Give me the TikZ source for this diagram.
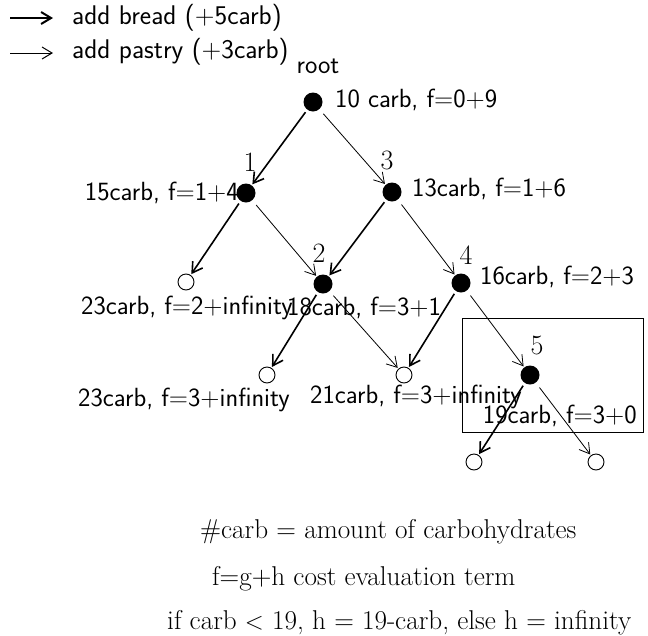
\documentclass[tikz,border=0pt]{standalone}
\usetikzlibrary{arrows.meta}
\begin{document}
\begin{tikzpicture}[x=1pt,y=-1pt,
  full/.style={circle, fill=black, minimum size=19pt, inner sep=0pt},
  hollow/.style={circle, draw, line width=0.9pt, minimum size=16pt, inner sep=0pt},
  lbl/.style={font=\sffamily\fontsize{26.3}{30}\selectfont, inner sep=0pt},
  leg/.style={font=\sffamily\fontsize{27}{30}\selectfont, inner sep=0pt, anchor=base west},
  num/.style={font=\fontsize{28}{30}\selectfont, inner sep=0pt},
  note/.style={font=\fontsize{27.2}{30}\selectfont, inner sep=0pt, anchor=base west},
  tip/.style={-{Straight Barb[length=10pt,width=12pt]}},
  bread/.style={tip, line width=1.6pt, shorten <=3pt, shorten >=1pt},
  pastry/.style={tip, line width=0.8pt, shorten <=6pt, shorten >=1pt},
  frame/.style={draw, line width=1pt}]
\useasboundingbox (0,0) rectangle (648,635);

% legend
\coordinate (la1) at (10,18); \coordinate (la2) at (53,18);
\coordinate (lb1) at (10,53); \coordinate (lb2) at (53,53);
\draw[tip, line width=2pt] (la1) -- (la2);
\draw[tip, line width=1pt] (lb1) -- (lb2);
\node[leg] (legbread) at (72,24) {add bread (+5carb)};
\node[leg] (legpastry) at (72,58) {add pastry (+3carb)};

% tree nodes
\node[full] (root) at (313,102) {};
\node[full] (n1) at (246,193) {};
\node[full] (n3) at (392,192) {};
\node[hollow] (la) at (186,282) {};
\node[full] (n2) at (323,284) {};
\node[full] (n4) at (461,283) {};
\node[hollow] (lb) at (267,375) {};
\node[hollow] (lc) at (404,375) {};
\node[full] (n5) at (530,375) {};
\node[hollow] (ld) at (474,462) {};
\node[hollow] (le) at (596,462) {};

% box
\draw[frame] (462,318) rectangle (643,432);

% connectors
\draw[bread] (root) -- (n1);
\draw[pastry] (root) -- (n3);
\draw[bread] (n1) -- (la);
\draw[pastry] (n1) -- (n2);
\draw[bread] (n3) -- (n2);
\draw[pastry] (n3) -- (n4);
\draw[bread] (n2) -- (lb);
\draw[pastry] (n2) -- (lc);
\draw[bread] (n4) -- (lc);
\draw[pastry] (n4) -- (n5);
\draw[bread] (n5) -- (ld);
\draw[pastry] (n5) -- (le);

% labels
\node[lbl, anchor=base] (troot) at (318,73) {root};
\node[lbl, anchor=base west] (t0) at (335,107) {10 carb, f=0+9};
\node[num] (k1) at (250,162) {1};
\node[num] (k3) at (387,160) {3};
\node[lbl, anchor=base east] (t1) at (239,200) {15carb, f=1+4};
\node[lbl, anchor=base west] (t3) at (412,196) {13carb, f=1+6};
\node[lbl, anchor=base west] (ta) at (81,314) {23carb, f=2+infinity};
\node[num] (k2) at (319,253) {2};
\node[lbl, anchor=base west] (t2) at (287,315) {18carb, f=3+1};
\node[num] (k4) at (466,255) {4};
\node[lbl, anchor=base west] (t4) at (480,284) {16carb, f=2+3};
\node[lbl, anchor=base west] (tb) at (78,406) {23carb, f=3+infinity};
\node[lbl, anchor=base west] (tc) at (310,403) {21carb, f=3+infinity};
\node[num] (k5) at (537,345) {5};
\node[lbl, anchor=base east] (t5) at (637,423) {19carb, f=3+0};

% notes
\node[note] (nt1) at (200,538) {\#carb = amount of carbohydrates};
\node[note] (nt2) at (212,585) {f=g+h cost evaluation term};
\node[note] (nt3) at (167,629) {if carb $<$ 19, h = 19-carb, else h = infinity};
\end{tikzpicture}
\end{document}
